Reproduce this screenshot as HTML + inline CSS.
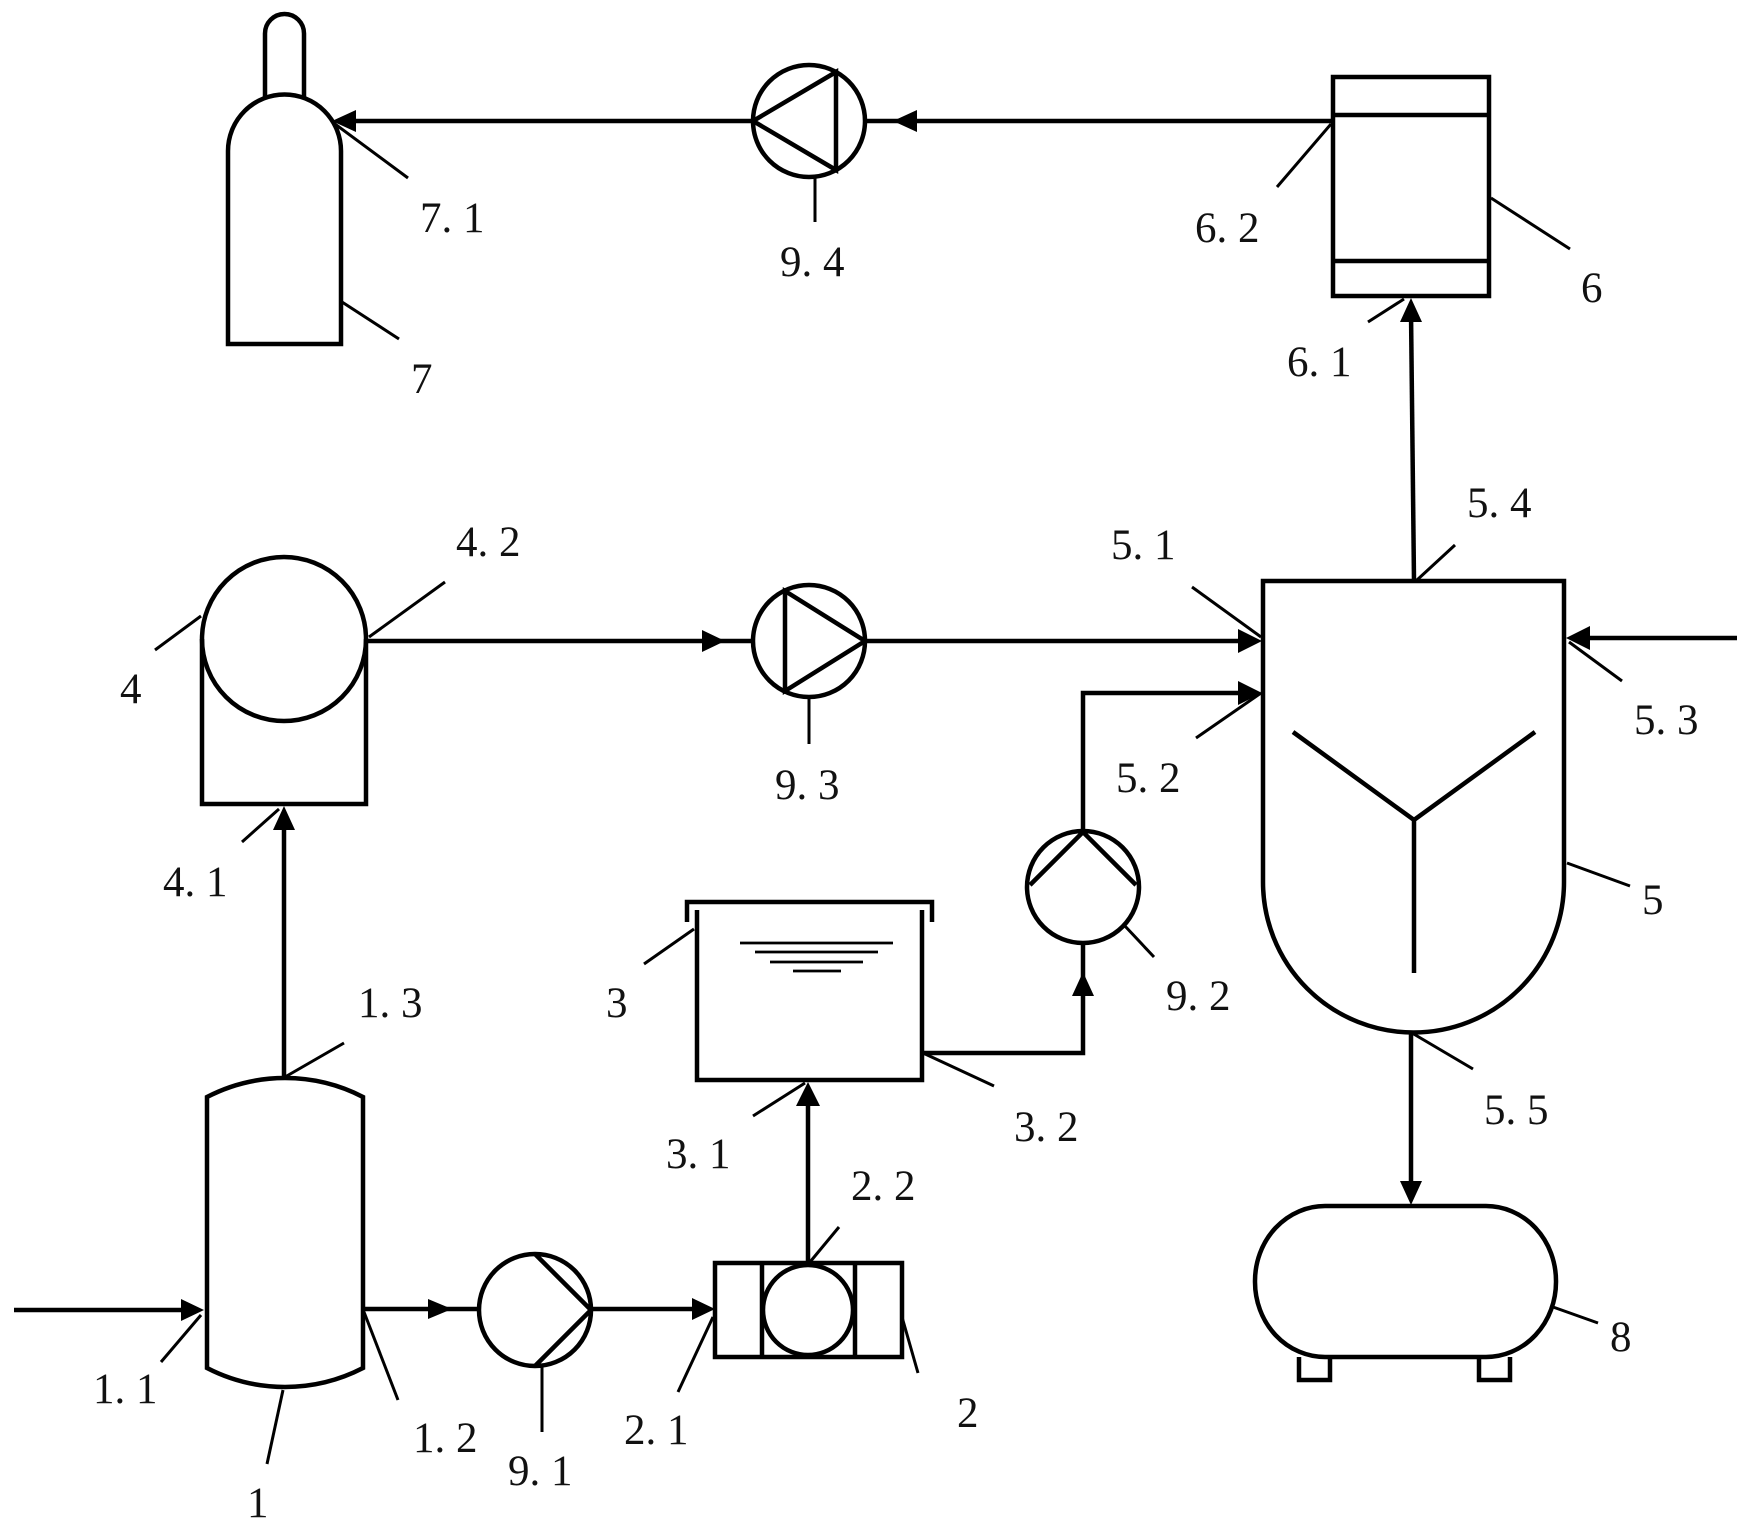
<!DOCTYPE html>
<html>
<head>
<meta charset="utf-8">
<style>
  html,body{margin:0;padding:0;background:#fff;}
  svg{display:block;}
  text{font-family:"Liberation Serif","Noto Serif CJK SC",serif;font-size:43px;fill:#111;}
</style>
</head>
<body>
<svg width="1752" height="1531" viewBox="0 0 1752 1531" xmlns="http://www.w3.org/2000/svg">
<rect width="1752" height="1531" fill="#fff"/>
<g fill="none" stroke="#000" stroke-width="4.5" stroke-linejoin="miter">
  <!-- Cylinder 7 -->
  <path d="M265,97 L265,33.5 A19.5,19.5 0 0 1 304,33.5 L304,97"/>
  <path d="M228,344 L228,151 A56.5,56.5 0 0 1 341,151 L341,344 Z"/>
  <!-- Pump 9.4 -->
  <circle cx="809" cy="121" r="56"/>
  <path d="M836,72 L753,121 L836,170 Z"/>
  <!-- Box 6 -->
  <rect x="1333" y="77" width="156" height="219"/>
  <line x1="1333" y1="115" x2="1489" y2="115"/>
  <line x1="1333" y1="261" x2="1489" y2="261"/>
  <!-- Component 4 -->
  <circle cx="284" cy="639" r="82"/>
  <path d="M202,639 L202,804 L366,804 L366,639"/>
  <!-- Pump 9.3 -->
  <circle cx="809" cy="641" r="56"/>
  <path d="M785,591 L865,641 L785,691 Z"/>
  <!-- Reactor 5 -->
  <path d="M1263,581 L1564,581 L1564,882 A150.5,150.5 0 0 1 1263,882 Z"/>
  <path d="M1293,732 L1414,820 L1535,732 M1414,820 L1414,973"/>
  <!-- Pump 9.2 -->
  <circle cx="1083" cy="887" r="56"/>
  <path d="M1030,885 L1083,832 L1136,885"/>
  <!-- Tank 3 -->
  <path d="M687,922 L687,902 L932,902 L932,922"/>
  <path d="M697,910 L697,1080 L922,1080 L922,910"/>
  <!-- Tank 1 -->
  <path d="M207,1097 A170,170 0 0 1 363,1097 L363,1368 A170,170 0 0 1 207,1368 Z"/>
  <!-- Pump 9.1 -->
  <circle cx="535" cy="1310" r="56"/>
  <path d="M535,1254 L591,1310 L535,1366"/>
  <!-- Component 2 -->
  <rect x="715" y="1263" width="187" height="94"/>
  <line x1="762" y1="1263" x2="762" y2="1357"/>
  <line x1="855" y1="1263" x2="855" y2="1357"/>
  <circle cx="808" cy="1310" r="45"/>
  <!-- Tank 8 -->
  <rect x="1255" y="1206" width="301" height="151" rx="70" ry="75"/>
  <path d="M1299,1357 L1299,1380 L1330,1380 L1330,1357"/>
  <path d="M1479,1357 L1479,1380 L1510,1380 L1510,1357"/>

  <!-- Flow lines -->
  <path d="M14,1310 H190"/>
  <path d="M363,1309 H479"/>
  <path d="M591,1309 H700"/>
  <path d="M808,1264 V1095"/>
  <path d="M922,1053 H1083 V942"/>
  <path d="M1083,831 V693 H1250"/>
  <path d="M284,1078 V820"/>
  <path d="M366,641 H753"/>
  <path d="M865,641 H1250"/>
  <path d="M1737,638 H1580"/>
  <path d="M1414,581 L1411,312"/>
  <path d="M1333,121 H865"/>
  <path d="M753,121 H345"/>
  <path d="M1411,1033 V1192"/>
</g>
<!-- water level lines -->
<g stroke="#000" stroke-width="2.8">
  <line x1="740" y1="943" x2="893" y2="943"/>
  <line x1="755" y1="952" x2="878" y2="952"/>
  <line x1="770" y1="962" x2="863" y2="962"/>
  <line x1="793" y1="971" x2="841" y2="971"/>
</g>
<!-- Arrowheads -->
<g fill="#000" stroke="none">
  <polygon points="332,121 356,110 356,132"/>
  <polygon points="893,121 917,110 917,132"/>
  <polygon points="1411,298 1400,322 1422,322"/>
  <polygon points="284,806 273,830 295,830"/>
  <polygon points="725,641 702,630 702,652"/>
  <polygon points="1262,641 1238,629 1238,653"/>
  <polygon points="1262,693 1238,681 1238,705"/>
  <polygon points="1566,638 1590,626 1590,650"/>
  <polygon points="1083,972 1072,996 1094,996"/>
  <polygon points="1411,1205 1400,1181 1422,1181"/>
  <polygon points="808,1082 796,1106 820,1106"/>
  <polygon points="204,1310 181,1299 181,1321"/>
  <polygon points="452,1309 428,1299 428,1319"/>
  <polygon points="715,1309 692,1298 692,1320"/>
</g>
<!-- Leader lines -->
<g stroke="#000" stroke-width="3" fill="none">
  <line x1="335" y1="124" x2="408" y2="178"/>
  <line x1="342" y1="302" x2="399" y2="339"/>
  <line x1="815" y1="178" x2="815" y2="222"/>
  <line x1="1331" y1="124" x2="1277" y2="187"/>
  <line x1="1491" y1="198" x2="1570" y2="249"/>
  <line x1="1404" y1="299" x2="1368" y2="322"/>
  <line x1="1417" y1="580" x2="1455" y2="545"/>
  <line x1="1261" y1="637" x2="1192" y2="587"/>
  <line x1="201" y1="616" x2="155" y2="650"/>
  <line x1="369" y1="637" x2="445" y2="582"/>
  <line x1="809" y1="698" x2="809" y2="744"/>
  <line x1="1261" y1="693" x2="1196" y2="738"/>
  <line x1="1569" y1="642" x2="1622" y2="681"/>
  <line x1="279" y1="809" x2="242" y2="842"/>
  <line x1="1567" y1="863" x2="1630" y2="886"/>
  <line x1="1124" y1="925" x2="1154" y2="957"/>
  <line x1="694" y1="929" x2="644" y2="964"/>
  <line x1="285" y1="1077" x2="344" y2="1043"/>
  <line x1="1412" y1="1033" x2="1473" y2="1069"/>
  <line x1="923" y1="1053" x2="994" y2="1086"/>
  <line x1="805" y1="1083" x2="753" y2="1116"/>
  <line x1="810" y1="1262" x2="839" y2="1227"/>
  <line x1="1553" y1="1307" x2="1598" y2="1323"/>
  <line x1="201" y1="1315" x2="161" y2="1362"/>
  <line x1="364" y1="1312" x2="398" y2="1400"/>
  <line x1="542" y1="1366" x2="542" y2="1432"/>
  <line x1="713" y1="1317" x2="678" y2="1392"/>
  <line x1="902" y1="1317" x2="918" y2="1373"/>
  <line x1="283" y1="1390" x2="267" y2="1464"/>
</g>
<!-- Labels -->
<g>
  <text x="420" y="232">7. 1</text>
  <text x="411" y="393">7</text>
  <text x="780" y="276">9. 4</text>
  <text x="1195" y="242">6. 2</text>
  <text x="1581" y="302">6</text>
  <text x="1287" y="376">6. 1</text>
  <text x="1467" y="517">5. 4</text>
  <text x="1111" y="559">5. 1</text>
  <text x="456" y="556">4. 2</text>
  <text x="120" y="703">4</text>
  <text x="1634" y="734">5. 3</text>
  <text x="775" y="799">9. 3</text>
  <text x="1116" y="792">5. 2</text>
  <text x="163" y="896">4. 1</text>
  <text x="1642" y="914">5</text>
  <text x="358" y="1017">1. 3</text>
  <text x="606" y="1017">3</text>
  <text x="1166" y="1010">9. 2</text>
  <text x="1484" y="1124">5. 5</text>
  <text x="1014" y="1141">3. 2</text>
  <text x="666" y="1168">3. 1</text>
  <text x="851" y="1200">2. 2</text>
  <text x="1610" y="1351">8</text>
  <text x="93" y="1403">1. 1</text>
  <text x="957" y="1427">2</text>
  <text x="413" y="1452">1. 2</text>
  <text x="508" y="1485">9. 1</text>
  <text x="624" y="1444">2. 1</text>
  <text x="247" y="1517">1</text>
</g>
</svg>
</body>
</html>
